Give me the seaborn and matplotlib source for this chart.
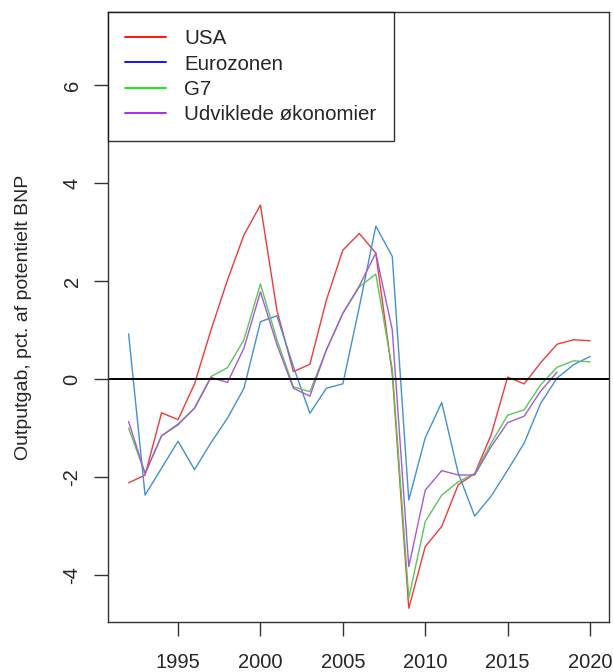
import numpy as np
import pandas as pd
import matplotlib
matplotlib.use('Agg')
import matplotlib.pyplot as plt
from matplotlib.lines import Line2D
import seaborn as sns

years = list(range(1992, 2021))

usa = [-2.12, -1.96, -0.69, -0.83, -0.1, 1.0, 2.02, 2.94, 3.55, 1.4,
       0.15, 0.3, 1.61, 2.63, 2.97, 2.57, 0.1, -4.68, -3.42, -3.01,
       -2.16, -1.93, -1.14, 0.04, -0.1, 0.33, 0.71, 0.8, 0.78]
eurozonen = [0.92, -2.37, -1.82, -1.27, -1.85, -1.3, -0.8, -0.19, 1.17, 1.29,
             0.25, -0.7, -0.19, -0.1, 1.47, 3.12, 2.5, -2.47, -1.2, -0.48,
             -1.92, -2.8, -2.39, -1.86, -1.31, -0.5, 0.02, 0.29, 0.46]
g7 = [-1.0, -1.93, -1.16, -0.94, -0.59, 0.05, 0.23, 0.8, 1.94, 0.8,
      -0.16, -0.26, 0.59, 1.34, 1.88, 2.14, 0.2, -4.47, -2.91, -2.37,
      -2.1, -1.93, -1.31, -0.74, -0.63, -0.12, 0.24, 0.37, 0.35]
udviklede = [-0.87, -1.93, -1.16, -0.92, -0.6, 0.03, -0.07, 0.63, 1.78, 0.7,
             -0.19, -0.35, 0.59, 1.34, 1.9, 2.57, 1.0, -3.83, -2.27, -1.87,
             -1.96, -1.96, -1.38, -0.89, -0.76, -0.25, 0.14, np.nan, np.nan]

series_names = ['USA', 'Eurozonen', 'G7', 'Udviklede økonomier']
line_colors = ['#ee3b3b', '#4590d2', '#5cc55c', '#a55bd0']
legend_colors = ['#ff0000', '#0000ff', '#00ee00', '#a020f0']

df = pd.DataFrame({'year': years, 'USA': usa, 'Eurozonen': eurozonen,
                   'G7': g7, 'Udviklede økonomier': udviklede})
long = df.melt(id_vars='year', var_name='serie', value_name='gap').dropna()

sns.set_style('white')
plt.rcParams['font.family'] = ['Liberation Sans', 'DejaVu Sans']
plt.rcParams['axes.unicode_minus'] = False

fig = plt.figure(figsize=(6.13, 6.72), dpi=100)
ax = fig.add_axes([108 / 613, 1 - 622 / 672, 501 / 613, 610 / 672])

sns.lineplot(data=long, x='year', y='gap', hue='serie', hue_order=series_names,
             palette=line_colors, linewidth=1.0, ax=ax, legend=False)
ax.axhline(0, color='black', linewidth=1.4)

ax.set_xlim(1990.75, 2021.15)
ax.set_ylim(-4.96, 7.49)
ax.set_xticks([1995, 2000, 2005, 2010, 2015, 2020])
ax.set_yticks([-4, -2, 0, 2, 4, 6])
ax.set_xlabel('')
ax.set_ylabel('Outputgab, pct. af potentielt BNP', fontsize=14, labelpad=22)
ax.tick_params(axis='both', direction='out', length=10, width=1, color='#333333',
               labelsize=14.5, left=True, bottom=True)
ax.tick_params(axis='x', pad=12)
ax.tick_params(axis='y', pad=9)
for lab in ax.get_yticklabels():
    lab.set_rotation(90)
    lab.set_va('center')
for sp in ax.spines.values():
    sp.set_color('#333333')
    sp.set_linewidth(1)

handles = [Line2D([0], [0], color=c, linewidth=1.3) for c in legend_colors]
leg = ax.legend(handles, series_names, loc='upper left', bbox_to_anchor=(0, 1),
                borderaxespad=0, fontsize=14.8, frameon=True, fancybox=False,
                edgecolor='black', borderpad=0.85, labelspacing=0.3,
                handlelength=1.95, handletextpad=0.9)
leg.get_frame().set_linewidth(1)

fig.savefig('out.png', dpi=100)
